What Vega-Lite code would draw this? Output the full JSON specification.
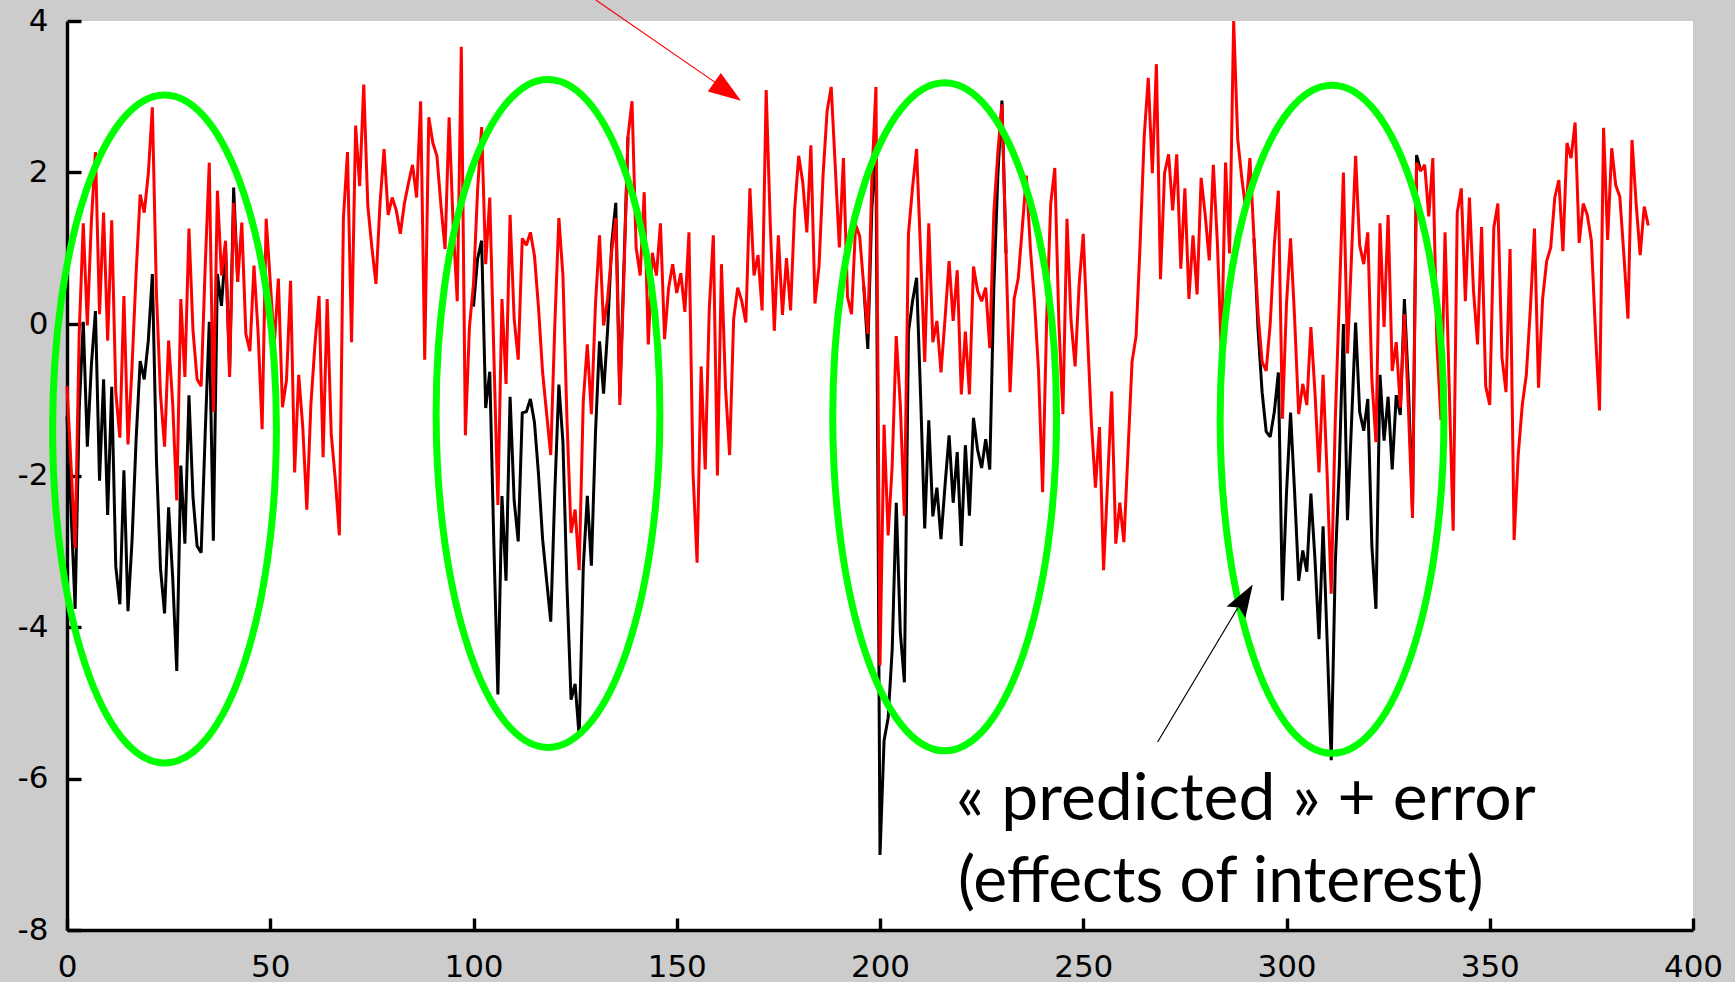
{
"$schema": "https://vega.github.io/schema/vega-lite/v6.json",
"width": 1626, "height": 909,
"autosize": {"type": "none"},
"padding": {"left": 67, "top": 21, "right": 42, "bottom": 52},
"background": "#cccccc",
"view": {"fill": "#ffffff", "stroke": null},
"config": {
  "axis": {"grid": false, "domainColor": "#000000", "domainWidth": 3.4, "tickColor": "#000000", "tickWidth": 3.4, "labelColor": "#000000", "labelFont": "DejaVu Sans", "labelFontSize": 31, "labelFlush": false, "labelOverlap": false, "labelBound": false, "title": null},
  "axisX": {"tickSize": -12, "labelPadding": 34},
  "axisY": {"tickSize": -14, "labelPadding": 33}
},
"datasets": {
"red": [
{"x":0,"r":-0.82},{"x":1,"r":-1.87},{"x":2,"r":-2.96},{"x":3,"r":-0.13},{"x":4,"r":1.33},{"x":5,"r":-0.02},{"x":6,"r":1.36},{"x":7,"r":2.27},{"x":8,"r":0.13},{"x":9,"r":1.47},
{"x":10,"r":-0.22},{"x":11,"r":1.37},{"x":12,"r":-0.90},{"x":13,"r":-1.50},{"x":14,"r":0.37},{"x":15,"r":-1.59},{"x":16,"r":-0.56},{"x":17,"r":0.67},{"x":18,"r":1.71},{"x":19,"r":1.47},
{"x":20,"r":1.98},{"x":21,"r":2.86},{"x":22,"r":0.41},{"x":23,"r":-0.93},{"x":24,"r":-1.62},{"x":25,"r":-0.22},{"x":26,"r":-1.05},{"x":27,"r":-2.33},{"x":28,"r":0.33},{"x":29,"r":-0.70},
{"x":30,"r":1.26},{"x":31,"r":-0.09},{"x":32,"r":-0.73},{"x":33,"r":-0.82},{"x":34,"r":0.76},{"x":35,"r":2.13},{"x":36,"r":-1.16},{"x":37,"r":1.76},{"x":38,"r":0.64},{"x":39,"r":1.10},
{"x":40,"r":-0.70},{"x":41,"r":1.60},{"x":42,"r":0.56},{"x":43,"r":1.34},{"x":44,"r":-0.13},{"x":45,"r":-0.36},{"x":46,"r":0.77},{"x":47,"r":-0.10},{"x":48,"r":-1.39},{"x":49,"r":1.39},
{"x":50,"r":0.56},{"x":51,"r":-0.27},{"x":52,"r":0.60},{"x":53,"r":-1.10},{"x":54,"r":-0.74},{"x":55,"r":0.57},{"x":56,"r":-1.96},{"x":57,"r":-0.67},{"x":58,"r":-1.36},{"x":59,"r":-2.45},
{"x":60,"r":-1.06},{"x":61,"r":-0.27},{"x":62,"r":0.37},{"x":63,"r":-1.76},{"x":64,"r":0.33},{"x":65,"r":-1.45},{"x":66,"r":-2.05},{"x":67,"r":-2.79},{"x":68,"r":1.40},{"x":69,"r":2.27},
{"x":70,"r":-0.24},{"x":71,"r":2.62},{"x":72,"r":1.82},{"x":73,"r":3.16},{"x":74,"r":1.56},{"x":75,"r":1.01},{"x":76,"r":0.53},{"x":77,"r":1.59},{"x":78,"r":2.31},{"x":79,"r":1.44},
{"x":80,"r":1.67},{"x":81,"r":1.50},{"x":82,"r":1.19},{"x":83,"r":1.59},{"x":84,"r":1.86},{"x":85,"r":2.10},{"x":86,"r":1.67},{"x":87,"r":2.94},{"x":88,"r":-0.47},{"x":89,"r":2.73},
{"x":90,"r":2.39},{"x":91,"r":2.22},{"x":92,"r":1.56},{"x":93,"r":0.99},{"x":94,"r":2.73},{"x":95,"r":1.30},{"x":96,"r":0.30},{"x":97,"r":3.66},{"x":98,"r":-1.47},{"x":99,"r":-0.04},
{"x":100,"r":0.53},{"x":101,"r":1.76},{"x":102,"r":2.60},{"x":103,"r":0.79},{"x":104,"r":1.67},{"x":105,"r":-0.39},{"x":106,"r":-2.39},{"x":107,"r":0.33},{"x":108,"r":-0.79},{"x":109,"r":1.44},
{"x":110,"r":0.07},{"x":111,"r":-0.47},{"x":112,"r":1.13},{"x":113,"r":1.04},{"x":114,"r":1.21},{"x":115,"r":0.90},{"x":116,"r":0.21},{"x":117,"r":-0.64},{"x":118,"r":-1.19},{"x":119,"r":-1.73},
{"x":120,"r":-0.02},{"x":121,"r":1.40},{"x":122,"r":0.64},{"x":123,"r":-1.27},{"x":124,"r":-2.76},{"x":125,"r":-2.45},{"x":126,"r":-3.25},{"x":127,"r":-1.02},{"x":128,"r":-0.27},{"x":129,"r":-1.19},
{"x":130,"r":0.25},{"x":131,"r":1.17},{"x":132,"r":-0.02},{"x":133,"r":0.33},{"x":134,"r":0.96},{"x":135,"r":1.40},{"x":136,"r":-1.07},{"x":137,"r":0.64},{"x":138,"r":2.47},{"x":139,"r":2.94},
{"x":140,"r":1.01},{"x":141,"r":0.64},{"x":142,"r":1.74},{"x":143,"r":-0.27},{"x":144,"r":0.94},{"x":145,"r":0.64},{"x":146,"r":1.33},{"x":147,"r":-0.20},{"x":148,"r":0.48},{"x":149,"r":0.79},
{"x":150,"r":0.41},{"x":151,"r":0.67},{"x":152,"r":0.16},{"x":153,"r":1.21},{"x":154,"r":-1.96},{"x":155,"r":-3.15},{"x":156,"r":-0.56},{"x":157,"r":-1.92},{"x":158,"r":0.20},{"x":159,"r":1.17},
{"x":160,"r":-2.00},{"x":161,"r":0.79},{"x":162,"r":-0.84},{"x":163,"r":-1.73},{"x":164,"r":0.07},{"x":165,"r":0.48},{"x":166,"r":0.30},{"x":167,"r":0.02},{"x":168,"r":1.79},{"x":169,"r":0.64},
{"x":170,"r":0.91},{"x":171,"r":0.18},{"x":172,"r":3.09},{"x":173,"r":1.33},{"x":174,"r":-0.09},{"x":175,"r":1.17},{"x":176,"r":0.12},{"x":177,"r":0.87},{"x":178,"r":0.18},{"x":179,"r":1.51},
{"x":180,"r":2.22},{"x":181,"r":1.87},{"x":182,"r":1.21},{"x":183,"r":2.36},{"x":184,"r":0.27},{"x":185,"r":0.76},{"x":186,"r":1.97},{"x":187,"r":2.82},{"x":188,"r":3.13},{"x":189,"r":2.07},
{"x":190,"r":1.01},{"x":191,"r":2.19},{"x":192,"r":0.36},{"x":193,"r":0.13},{"x":194,"r":1.31},{"x":195,"r":1.16},{"x":196,"r":0.50},{"x":197,"r":-0.13},{"x":198,"r":1.93},{"x":199,"r":3.13},
{"x":200,"r":-4.51},{"x":201,"r":-1.33},{"x":202,"r":-2.79},{"x":203,"r":-1.87},{"x":204,"r":-0.16},{"x":205,"r":-1.07},{"x":206,"r":-2.53},{"x":207,"r":1.19},{"x":208,"r":1.80},{"x":209,"r":2.31},
{"x":210,"r":0.93},{"x":211,"r":-0.50},{"x":212,"r":1.33},{"x":213,"r":-0.24},{"x":214,"r":0.04},{"x":215,"r":-0.64},{"x":216,"r":0.07},{"x":217,"r":0.83},{"x":218,"r":0.04},{"x":219,"r":0.71},
{"x":220,"r":-0.93},{"x":221,"r":-0.10},{"x":222,"r":-0.93},{"x":223,"r":0.76},{"x":224,"r":0.44},{"x":225,"r":0.30},{"x":226,"r":0.48},{"x":227,"r":-0.32},{"x":228,"r":1.47},{"x":229,"r":2.27},
{"x":230,"r":2.90},{"x":231,"r":0.93},{"x":232,"r":-0.90},{"x":233,"r":0.33},{"x":234,"r":0.60},{"x":235,"r":1.27},{"x":236,"r":1.96},{"x":237,"r":0.99},{"x":238,"r":0.30},{"x":239,"r":-0.62},
{"x":240,"r":-2.22},{"x":241,"r":0.07},{"x":242,"r":1.59},{"x":243,"r":2.06},{"x":244,"r":0.01},{"x":245,"r":-1.19},{"x":246,"r":1.39},{"x":247,"r":0.04},{"x":248,"r":-0.56},{"x":249,"r":0.53},
{"x":250,"r":1.19},{"x":251,"r":-0.09},{"x":252,"r":-1.30},{"x":253,"r":-2.16},{"x":254,"r":-1.36},{"x":255,"r":-3.25},{"x":256,"r":-2.08},{"x":257,"r":-0.89},{"x":258,"r":-2.90},{"x":259,"r":-2.36},
{"x":260,"r":-2.88},{"x":261,"r":-1.70},{"x":262,"r":-0.50},{"x":263,"r":-0.16},{"x":264,"r":1.07},{"x":265,"r":2.48},{"x":266,"r":3.25},{"x":267,"r":1.99},{"x":268,"r":3.43},{"x":269,"r":0.59},
{"x":270,"r":1.99},{"x":271,"r":2.24},{"x":272,"r":1.50},{"x":273,"r":2.24},{"x":274,"r":0.73},{"x":275,"r":1.79},{"x":276,"r":0.33},{"x":277,"r":1.17},{"x":278,"r":0.39},{"x":279,"r":1.93},
{"x":280,"r":1.44},{"x":281,"r":0.84},{"x":282,"r":2.10},{"x":283,"r":1.07},{"x":284,"r":-0.44},{"x":285,"r":2.13},{"x":286,"r":0.93},{"x":287,"r":4.00},{"x":288,"r":2.44},{"x":289,"r":1.93},
{"x":290,"r":1.50},{"x":291,"r":2.19},{"x":292,"r":1.13},{"x":293,"r":0.13},{"x":294,"r":-0.50},{"x":295,"r":-0.62},{"x":296,"r":0.01},{"x":297,"r":1.04},{"x":298,"r":1.76},{"x":299,"r":-1.25},
{"x":300,"r":0.27},{"x":301,"r":1.13},{"x":302,"r":0.07},{"x":303,"r":-1.19},{"x":304,"r":-0.79},{"x":305,"r":-1.07},{"x":306,"r":-0.04},{"x":307,"r":-0.90},{"x":308,"r":-1.96},{"x":309,"r":-0.67},
{"x":310,"r":-1.99},{"x":311,"r":-3.56},{"x":312,"r":-1.27},{"x":313,"r":0.33},{"x":314,"r":2.00},{"x":315,"r":-0.39},{"x":316,"r":0.90},{"x":317,"r":2.22},{"x":318,"r":1.04},{"x":319,"r":0.79},
{"x":320,"r":1.21},{"x":321,"r":-0.73},{"x":322,"r":-1.56},{"x":323,"r":1.33},{"x":324,"r":-0.04},{"x":325,"r":1.44},{"x":326,"r":-0.62},{"x":327,"r":-0.24},{"x":328,"r":-1.10},{"x":329,"r":0.13},
{"x":330,"r":-1.13},{"x":331,"r":-2.56},{"x":332,"r":2.13},{"x":333,"r":2.02},{"x":334,"r":2.10},{"x":335,"r":1.42},{"x":336,"r":2.19},{"x":337,"r":-0.27},{"x":338,"r":-1.27},{"x":339,"r":1.21},
{"x":340,"r":-0.79},{"x":341,"r":-2.73},{"x":342,"r":1.47},{"x":343,"r":1.79},{"x":344,"r":0.30},{"x":345,"r":1.67},{"x":346,"r":0.44},{"x":347,"r":-0.27},{"x":348,"r":1.28},{"x":349,"r":-0.82},
{"x":350,"r":-1.07},{"x":351,"r":1.27},{"x":352,"r":1.59},{"x":353,"r":-0.44},{"x":354,"r":-0.90},{"x":355,"r":0.99},{"x":356,"r":-2.85},{"x":357,"r":-1.73},{"x":358,"r":-1.07},{"x":359,"r":-0.67},
{"x":360,"r":0.21},{"x":361,"r":1.26},{"x":362,"r":-0.84},{"x":363,"r":0.33},{"x":364,"r":0.83},{"x":365,"r":1.01},{"x":366,"r":1.67},{"x":367,"r":1.90},{"x":368,"r":0.96},{"x":369,"r":2.39},
{"x":370,"r":2.19},{"x":371,"r":2.66},{"x":372,"r":1.07},{"x":373,"r":1.59},{"x":374,"r":1.44},{"x":375,"r":1.10},{"x":376,"r":-0.10},{"x":377,"r":-1.14},{"x":378,"r":2.59},{"x":379,"r":1.11},
{"x":380,"r":2.32},{"x":381,"r":1.83},{"x":382,"r":1.68},{"x":383,"r":0.91},{"x":384,"r":0.07},{"x":385,"r":2.43},{"x":386,"r":1.60},{"x":387,"r":0.91},{"x":388,"r":1.55},{"x":389,"r":1.30}
],
"black": [
{"x":0,"b":-1.22,"w":1},{"x":1,"b":-2.47,"w":1},{"x":2,"b":-3.76,"w":1},{"x":3,"b":-1.13,"w":1},{"x":4,"b":0.03,"w":1},{"x":5,"b":-1.62,"w":1},{"x":6,"b":-0.54,"w":1},{"x":7,"b":0.17,"w":1},{"x":8,"b":-2.07,"w":1},{"x":9,"b":-0.73,"w":1},
{"x":10,"b":-2.52,"w":1},{"x":11,"b":-0.83,"w":1},{"x":12,"b":-3.20,"w":1},{"x":13,"b":-3.70,"w":1},{"x":14,"b":-1.93,"w":1},{"x":15,"b":-3.79,"w":1},{"x":16,"b":-2.86,"w":1},{"x":17,"b":-1.53,"w":1},{"x":18,"b":-0.49,"w":1},{"x":19,"b":-0.73,"w":1},
{"x":20,"b":-0.22,"w":1},{"x":21,"b":0.66,"w":1},{"x":22,"b":-1.79,"w":1},{"x":23,"b":-3.23,"w":1},{"x":24,"b":-3.82,"w":1},{"x":25,"b":-2.42,"w":1},{"x":26,"b":-3.35,"w":1},{"x":27,"b":-4.58,"w":1},{"x":28,"b":-1.87,"w":1},{"x":29,"b":-2.90,"w":1},
{"x":30,"b":-0.94,"w":1},{"x":31,"b":-2.29,"w":1},{"x":32,"b":-2.93,"w":1},{"x":33,"b":-3.02,"w":1},{"x":34,"b":-1.44,"w":1},{"x":35,"b":0.03,"w":1},{"x":36,"b":-2.86,"w":1},{"x":37,"b":0.66,"w":1},{"x":38,"b":0.24,"w":1},{"x":39,"b":1.00,"w":1},
{"x":40,"b":-0.60,"w":1},{"x":41,"b":1.80,"w":1},{"x":42,"b":0.56,"w":1},
{"x":100,"b":0.23,"w":2},{"x":101,"b":0.86,"w":2},{"x":102,"b":1.10,"w":2},{"x":103,"b":-1.11,"w":2},{"x":104,"b":-0.63,"w":2},{"x":105,"b":-2.89,"w":2},{"x":106,"b":-4.89,"w":2},{"x":107,"b":-2.27,"w":2},{"x":108,"b":-3.39,"w":2},{"x":109,"b":-0.96,"w":2},
{"x":110,"b":-2.33,"w":2},{"x":111,"b":-2.87,"w":2},{"x":112,"b":-1.17,"w":2},{"x":113,"b":-1.16,"w":2},{"x":114,"b":-0.99,"w":2},{"x":115,"b":-1.30,"w":2},{"x":116,"b":-1.99,"w":2},{"x":117,"b":-2.84,"w":2},{"x":118,"b":-3.39,"w":2},{"x":119,"b":-3.93,"w":2},
{"x":120,"b":-2.22,"w":2},{"x":121,"b":-0.80,"w":2},{"x":122,"b":-1.56,"w":2},{"x":123,"b":-3.47,"w":2},{"x":124,"b":-4.96,"w":2},{"x":125,"b":-4.75,"w":2},{"x":126,"b":-5.45,"w":2},{"x":127,"b":-3.22,"w":2},{"x":128,"b":-2.27,"w":2},{"x":129,"b":-3.19,"w":2},
{"x":130,"b":-1.45,"w":2},{"x":131,"b":-0.23,"w":2},{"x":132,"b":-0.92,"w":2},{"x":133,"b":-0.07,"w":2},{"x":134,"b":1.06,"w":2},{"x":135,"b":1.60,"w":2},{"x":136,"b":-0.97,"w":2},{"x":137,"b":0.74,"w":2},{"x":138,"b":2.47,"w":2},
{"x":196,"b":0.50,"w":3},{"x":197,"b":-0.33,"w":3},{"x":198,"b":1.53,"w":3},{"x":199,"b":2.33,"w":3},{"x":200,"b":-7.01,"w":3},{"x":201,"b":-5.5,"w":3},{"x":202,"b":-5.2,"w":3},{"x":203,"b":-4.3,"w":3},{"x":204,"b":-2.36,"w":3},{"x":205,"b":-4.07,"w":3},
{"x":206,"b":-4.73,"w":3},{"x":207,"b":-0.11,"w":3},{"x":208,"b":0.30,"w":3},{"x":209,"b":0.61,"w":3},{"x":210,"b":-0.97,"w":3},{"x":211,"b":-2.70,"w":3},{"x":212,"b":-1.27,"w":3},{"x":213,"b":-2.54,"w":3},{"x":214,"b":-2.16,"w":3},{"x":215,"b":-2.84,"w":3},
{"x":216,"b":-2.13,"w":3},{"x":217,"b":-1.47,"w":3},{"x":218,"b":-2.36,"w":3},{"x":219,"b":-1.69,"w":3},{"x":220,"b":-2.93,"w":3},{"x":221,"b":-1.60,"w":3},{"x":222,"b":-2.53,"w":3},{"x":223,"b":-1.24,"w":3},{"x":224,"b":-1.66,"w":3},{"x":225,"b":-1.90,"w":3},
{"x":226,"b":-1.52,"w":3},{"x":227,"b":-1.92,"w":3},{"x":228,"b":0.47,"w":3},{"x":229,"b":1.97,"w":3},{"x":230,"b":2.95,"w":3},{"x":231,"b":0.93,"w":3},
{"x":292,"b":1.13,"w":4},{"x":293,"b":-0.07,"w":4},{"x":294,"b":-0.90,"w":4},{"x":295,"b":-1.42,"w":4},{"x":296,"b":-1.49,"w":4},{"x":297,"b":-1.16,"w":4},{"x":298,"b":-0.64,"w":4},{"x":299,"b":-3.65,"w":4},{"x":300,"b":-2.23,"w":4},{"x":301,"b":-1.17,"w":4},
{"x":302,"b":-2.23,"w":4},{"x":303,"b":-3.39,"w":4},{"x":304,"b":-2.99,"w":4},{"x":305,"b":-3.27,"w":4},{"x":306,"b":-2.24,"w":4},{"x":307,"b":-3.10,"w":4},{"x":308,"b":-4.16,"w":4},{"x":309,"b":-2.67,"w":4},{"x":310,"b":-4.19,"w":4},{"x":311,"b":-5.76,"w":4},
{"x":312,"b":-3.17,"w":4},{"x":313,"b":-1.87,"w":4},{"x":314,"b":0.00,"w":4},{"x":315,"b":-2.59,"w":4},{"x":316,"b":-1.30,"w":4},{"x":317,"b":0.02,"w":4},{"x":318,"b":-1.16,"w":4},{"x":319,"b":-1.41,"w":4},{"x":320,"b":-0.99,"w":4},{"x":321,"b":-2.93,"w":4},
{"x":322,"b":-3.76,"w":4},{"x":323,"b":-0.67,"w":4},{"x":324,"b":-1.54,"w":4},{"x":325,"b":-0.96,"w":4},{"x":326,"b":-1.92,"w":4},{"x":327,"b":-0.94,"w":4},{"x":328,"b":-1.20,"w":4},{"x":329,"b":0.33,"w":4},{"x":330,"b":-0.83,"w":4},{"x":331,"b":-2.46,"w":4},
{"x":332,"b":2.23,"w":4},{"x":333,"b":2.02,"w":4}
],
"ellipses": [
{"x":23.99,"y":-1.386},{"x":118.33,"y":-1.180},{"x":215.9,"y":-1.224},{"x":311.2,"y":-1.257}
]
},
"layer": [
{
 "data": {"name": "black"},
 "mark": {"type": "line", "color": "#000000", "strokeWidth": 3, "strokeJoin": "bevel"},
 "encoding": {
  "x": {"field": "x", "type": "quantitative", "title": null, "scale": {"domain": [0, 400], "nice": false, "zero": false},
        "axis": {"values": [0,50,100,150,200,250,300,350,400], "labelExpr": "'' + datum.value", "title": null}},
  "y": {"field": "b", "type": "quantitative", "title": null, "scale": {"domain": [-8, 4], "nice": false, "zero": false},
        "axis": {"values": [-8,-6,-4,-2,0,2,4], "labelExpr": "datum.value < 0 ? '-' + abs(datum.value) : '' + datum.value", "title": null}},
  "detail": {"field": "w", "type": "nominal"}
 }
},
{
 "data": {"name": "red"},
 "mark": {"type": "line", "color": "#ff0000", "strokeWidth": 3, "strokeJoin": "bevel"},
 "encoding": {
  "x": {"field": "x", "type": "quantitative", "title": null, "scale": {"domain": [0, 400], "nice": false, "zero": false}},
  "y": {"field": "r", "type": "quantitative", "title": null, "scale": {"domain": [-8, 4], "nice": false, "zero": false}}
 }
},
{
 "data": {"name": "ellipses"},
 "mark": {"type": "point", "shape": "M0,-1C0.185,-1,0.335,-0.552,0.335,0C0.335,0.552,0.185,1,0,1C-0.185,1,-0.335,0.552,-0.335,0C-0.335,-0.552,-0.185,-1,0,-1Z", "size": 446224, "filled": false, "stroke": "#00ff00", "strokeWidth": 7, "opacity": 1},
 "encoding": {
  "x": {"field": "x", "type": "quantitative", "title": null, "scale": {"domain": [0, 400], "nice": false, "zero": false}},
  "y": {"field": "y", "type": "quantitative", "title": null, "scale": {"domain": [-8, 4], "nice": false, "zero": false}}
 }
},
{
 "data": {"values": [{}]},
 "mark": {"type": "rule", "color": "#ff0000", "strokeWidth": 1.2},
 "encoding": {
  "x": {"datum": 130.1, "type": "quantitative", "title": null, "scale": {"domain": [0, 400], "nice": false, "zero": false}},
  "y": {"datum": 4.277, "type": "quantitative", "title": null, "scale": {"domain": [-8, 4], "nice": false, "zero": false}},
  "x2": {"datum": 160.0},
  "y2": {"datum": 3.17}
 }
},
{
 "data": {"values": [{}]},
 "mark": {"type": "point", "shape": "M0,0L-0.7,2L0.7,2Z", "size": 1056, "filled": true, "color": "#ff0000", "opacity": 1, "angle": 124.8, "strokeWidth": 0},
 "encoding": {
  "x": {"datum": 165.8, "type": "quantitative", "title": null, "scale": {"domain": [0, 400], "nice": false, "zero": false}},
  "y": {"datum": 2.947, "type": "quantitative", "title": null, "scale": {"domain": [-8, 4], "nice": false, "zero": false}}
 }
},
{
 "data": {"values": [{}]},
 "mark": {"type": "rule", "color": "#000000", "strokeWidth": 1.2},
 "encoding": {
  "x": {"datum": 268.3, "type": "quantitative", "title": null, "scale": {"domain": [0, 400], "nice": false, "zero": false}},
  "y": {"datum": -5.518, "type": "quantitative", "title": null, "scale": {"domain": [-8, 4], "nice": false, "zero": false}},
  "x2": {"datum": 288.0},
  "y2": {"datum": -3.75}
 }
},
{
 "data": {"values": [{}]},
 "mark": {"type": "point", "shape": "M0,0L-0.68,2L0,1.65L0.68,2Z", "size": 1056, "filled": true, "color": "#000000", "opacity": 1, "angle": 31.1, "strokeWidth": 0},
 "encoding": {
  "x": {"datum": 291.7, "type": "quantitative", "title": null, "scale": {"domain": [0, 400], "nice": false, "zero": false}},
  "y": {"datum": -3.438, "type": "quantitative", "title": null, "scale": {"domain": [-8, 4], "nice": false, "zero": false}}
 }
},
{
 "data": {"values": [{}]},
 "mark": {"type": "text", "text": "« predicted » + error", "font": "Lato", "fontSize": 66, "align": "left", "baseline": "alphabetic", "color": "#000000"},
 "encoding": {
  "x": {"datum": 218.7, "type": "quantitative", "title": null, "scale": {"domain": [0, 400], "nice": false, "zero": false}},
  "y": {"datum": -6.548, "type": "quantitative", "title": null, "scale": {"domain": [-8, 4], "nice": false, "zero": false}}
 }
},
{
 "data": {"values": [{}]},
 "mark": {"type": "text", "text": "(effects of interest)", "font": "Lato", "fontSize": 64, "align": "left", "baseline": "alphabetic", "color": "#000000"},
 "encoding": {
  "x": {"datum": 219.2, "type": "quantitative", "title": null, "scale": {"domain": [0, 400], "nice": false, "zero": false}},
  "y": {"datum": -7.63, "type": "quantitative", "title": null, "scale": {"domain": [-8, 4], "nice": false, "zero": false}}
 }
}
]
}
